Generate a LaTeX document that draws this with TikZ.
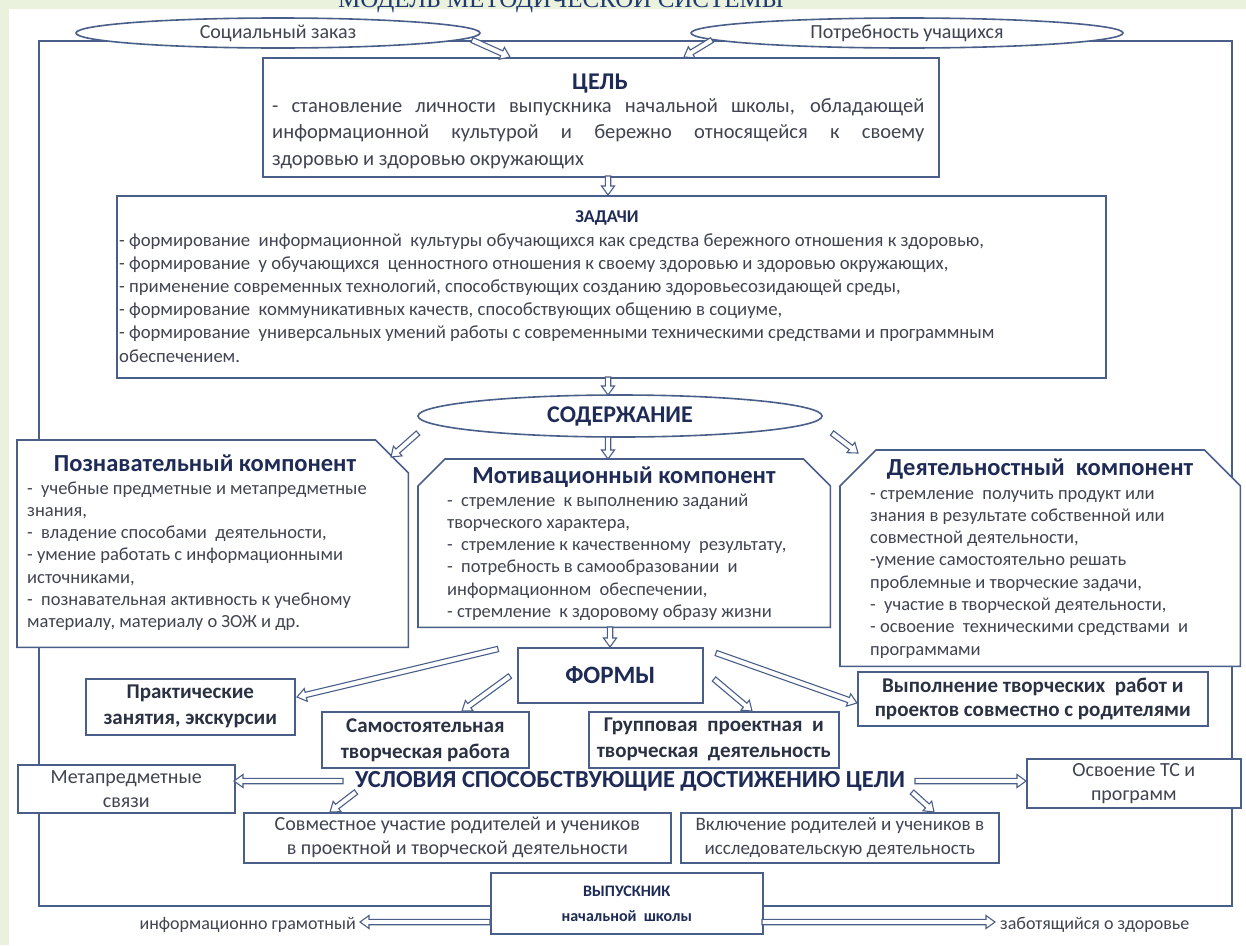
\documentclass[tikz,border=0pt]{standalone}
\usepackage{fontspec}
\setmainfont{Carlito}
\newfontfamily\serifru{Liberation Serif}
\usetikzlibrary{calc,shapes.geometric}
\definecolor{bord}{HTML}{4A5E8A}
\definecolor{navy}{HTML}{1F2B57}
\definecolor{gtxt}{HTML}{3F4450}
\definecolor{dtxt}{HTML}{2A3142}
\definecolor{titlec}{HTML}{1F3A6E}
\definecolor{bggreen}{HTML}{EAF1DD}
\newcommand\barrow[2]{%
  \coordinate (ba) at (#1);
  \coordinate (bb) at (#2);
  \coordinate (bh) at ($(bb)!9pt!(ba)$);
  \path[arrowsty] ($(ba)!2.7pt!90:(bb)$) -- ($(bh)!2.7pt!-90:(ba)$) -- ($(bh)!6.5pt!-90:(ba)$) -- (bb) -- ($(bh)!6.5pt!90:(ba)$) -- ($(bh)!2.7pt!90:(ba)$) -- ($(ba)!2.7pt!-90:(bb)$) -- cycle;}
\begin{document}
\begin{tikzpicture}[x=1pt,y=-1pt,
  bx/.style={draw=bord,line width=1.6pt,fill=white,inner sep=0pt,anchor=north west},
  sbx/.style={bx,align=center,text=dtxt,font=\fontsize{21}{26}\selectfont\bfseries},
  rbx/.style={bx,align=center,text=gtxt,font=\fontsize{20}{24}\selectfont},
  ell/.style={draw=bord,line width=1.6pt,fill=white,ellipse,inner sep=0pt},
  arrowsty/.style={draw=bord,line width=1.1pt,fill=white,line join=miter},
  lbl/.style={inner sep=0pt,anchor=base west,text=gtxt},
  ttl/.style={inner sep=0pt,anchor=base,text=navy,font=\fontsize{24.5}{28}\selectfont\bfseries},
  body/.style={lbl,font=\fontsize{18.5}{22.3}\selectfont},
  hidden/.style={inner sep=0pt,anchor=north west}
]
\fill[white] (0,0) rectangle (1246,945);
\fill[bggreen] (0,0) rectangle (1246,9);
\fill[bggreen] (0,0) rectangle (9,945);
\useasboundingbox (0,0) rectangle (1246,945);
\clip (0,0) rectangle (1246,945);
\node[anchor=base,inner sep=0pt,font=\serifru\fontsize{25}{30}\selectfont,text=titlec] (title) at (561,7) {МОДЕЛЬ МЕТОДИЧЕСКОЙ СИСТЕМЫ};

% outer frame
\node[draw=bord,line width=1.8pt,inner sep=0pt,anchor=north west,minimum width=1193pt,minimum height=865pt] (frame) at (38,40) {};

% top ellipses
\node[ell,minimum width=404pt,minimum height=30pt,text=gtxt,font=\fontsize{20}{24}\selectfont] (soc) at (278,33) {Социальный заказ};
\node[ell,minimum width=432pt,minimum height=30pt,text=gtxt,font=\fontsize{20}{24}\selectfont] (potr) at (907,33) {Потребность учащихся};

% goal
\node[bx,minimum width=676pt,minimum height=119pt] (cel) at (262,57) {};
\node[ttl,font=\fontsize{24}{28}\selectfont\bfseries] (celh) at (600,89) {ЦЕЛЬ};
\node[lbl,font=\fontsize{20.5}{26.5}\selectfont] (celt) at (272,112) {\parbox[t]{652pt}{%
\makebox[652pt][s]{- становление личности выпускника начальной школы, обладающей}\\
\makebox[652pt][s]{информационной культурой и бережно относящейся к своему}\\
здоровью и здоровью окружающих}};

% tasks
\node[bx,minimum width=989pt,minimum height=182pt] (zad) at (116,195) {};
\node[ttl,font=\fontsize{18}{20}\selectfont\bfseries] (zadh) at (607,222) {ЗАДАЧИ};
\node[lbl,font=\fontsize{18.7}{23.2}\selectfont] (zadt) at (119,246) {\parbox[t]{980pt}{%
- формирование\ \ информационной\ \ культуры обучающихся как средства бережного отношения к здоровью,\\
- формирование\ \ у обучающихся\ \ ценностного отношения к своему здоровью и здоровью окружающих,\\
- применение современных технологий, способствующих созданию здоровьесозидающей среды,\\
- формирование\ \ коммуникативных качеств, способствующих общению в социуме,\\
- формирование\ \ универсальных умений работы с современными техническими средствами и программным\\
обеспечением.}};

% content
\node[ell,minimum width=404pt,minimum height=42pt,text=navy,font=\fontsize{24}{28}\selectfont\bfseries] (sod) at (620,416) {СОДЕРЖАНИЕ};

% cognitive component
\node[hidden,minimum width=391pt,minimum height=207pt] (pozn) at (17,440) {};
\draw[draw=bord,line width=1.6pt,fill=white] (pozn.north west) -- ([xshift=-33pt]pozn.north east) -- ([yshift=-33pt]pozn.north east) -- (pozn.south east) -- (pozn.south west) -- cycle;
\node[ttl] (poznh) at (205,471) {Познавательный компонент};
\node[body] (poznt) at (27,494) {\parbox[t]{380pt}{%
-\ \ учебные предметные и метапредметные\\
знания,\\
-\ \ владение способами\ \ деятельности,\\
- умение работать с информационными\\
источниками,\\
-\ \ познавательная активность к учебному\\
материалу, материалу о ЗОЖ и др.}};

% motivational component
\node[hidden,minimum width=412pt,minimum height=168pt] (motiv) at (418,459) {};
\draw[draw=bord,line width=1.6pt,fill=white] ([yshift=-27pt]motiv.north west) -- ([xshift=27pt]motiv.north west) -- ([xshift=-27pt]motiv.north east) -- ([yshift=-27pt]motiv.north east) -- (motiv.south east) -- (motiv.south west) -- cycle;
\node[ttl] (motivh) at (624,483) {Мотивационный компонент};
\node[body] (motivt) at (447,506) {\parbox[t]{380pt}{%
-\ \ стремление\ \ к выполнению заданий\\
творческого характера,\\
-\ \ стремление к качественному\ \ результату,\\
-\ \ потребность в самообразовании\ \ и\\
информационном\ \ обеспечении,\\
- стремление\ \ к здоровому образу жизни}};

% activity component
\node[hidden,minimum width=400pt,minimum height=216pt] (deyat) at (840,450) {};
\draw[draw=bord,line width=1.6pt,fill=white] ([yshift=-36pt]deyat.north west) -- ([xshift=36pt]deyat.north west) -- ([xshift=-36pt]deyat.north east) -- ([yshift=-36pt]deyat.north east) -- (deyat.south east) -- (deyat.south west) -- cycle;
\node[ttl] (deyath) at (1040,475) {Деятельностный\ \ компонент};
\node[body] (deyatt) at (870,499) {\parbox[t]{360pt}{%
- стремление\ \ получить продукт или\\
знания в результате собственной или\\
совместной деятельности,\\
-умение самостоятельно решать\\
проблемные и творческие задачи,\\
-\ \ участие в творческой деятельности,\\
- освоение\ \ техническими средствами\ \ и\\
программами}};

% forms
\node[bx,minimum width=185pt,minimum height=55pt,text=navy,font=\fontsize{25}{28}\selectfont\bfseries] (form) at (517,647) {ФОРМЫ};
\node[sbx,minimum width=209pt,minimum height=56pt] (prak) at (85,678) {Практические\\занятия, экскурсии};
\node[sbx,minimum width=207pt,minimum height=56pt] (samo) at (321,711) {Самостоятельная\\творческая работа};
\node[sbx,minimum width=250pt,minimum height=56pt] (grup) at (588,711) {Групповая\ \ проектная\ \ и\\творческая\ \ деятельность};
\node[sbx,minimum width=350pt,minimum height=54pt,font=\fontsize{21}{24.5}\selectfont\bfseries] (vyp) at (857,671) {Выполнение творческих\ \ работ и\\проектов совместно с родителями};

% conditions
\node[inner sep=0pt,text=navy,font=\fontsize{24.5}{30}\selectfont\bfseries] (usl) at (630,781) {УСЛОВИЯ СПОСОБСТВУЮЩИЕ ДОСТИЖЕНИЮ ЦЕЛИ};
\node[rbx,minimum width=217pt,minimum height=48pt] (meta) at (17,764) {Метапредметные\\связи};
\node[rbx,minimum width=214pt,minimum height=49pt] (osv) at (1026,758) {Освоение ТС и\\программ};
\node[rbx,minimum width=427pt,minimum height=50pt] (sovm) at (243,812) {Совместное участие родителей и учеников\\в проектной и творческой деятельности};
\node[rbx,minimum width=318pt,minimum height=50pt,font=\fontsize{19}{24}\selectfont] (vkl) at (680,812) {Включение родителей и учеников в\\исследовательскую деятельность};

% graduate
\node[bx,minimum width=272pt,minimum height=61pt,align=center,text=navy,font=\fontsize{16}{25}\selectfont\bfseries] (grad) at (490,872) {ВЫПУСКНИК\\начальной\ \ школы};
\node[inner sep=0pt,anchor=east,text=gtxt,font=\fontsize{18}{22}\selectfont] (infg) at (356,925) {информационно грамотный};
\node[inner sep=0pt,anchor=west,text=gtxt,font=\fontsize{18}{22}\selectfont] (zabo) at (1000,925) {заботящийся о здоровье};

% arrow end points
\coordinate (p1) at (472,40);  \coordinate (q1) at (510,57);
\coordinate (p2) at (712,40);  \coordinate (q2) at (684,57);
\coordinate (p3) at (608,176); \coordinate (q3) at (608,195);
\coordinate (p4) at (608,377); \coordinate (q4) at (608,395);
\coordinate (p5) at (608,437); \coordinate (q5) at (608,459);
\coordinate (p6) at (418,433); \coordinate (q6) at (391,457);
\coordinate (p7) at (832,433); \coordinate (q7) at (858,453);
\coordinate (p8) at (610,627); \coordinate (q8) at (610,647);
\coordinate (p9) at (498,649); \coordinate (q9) at (297,697);
\coordinate (p10) at (510,676); \coordinate (q10) at (462,711);
\coordinate (p11) at (714,679); \coordinate (q11) at (752,711);
\coordinate (p12) at (716,653); \coordinate (q12) at (857,703);
\coordinate (p13) at (343,781); \coordinate (q13) at (234,781);
\coordinate (p14) at (915,781); \coordinate (q14) at (1026,781);
\coordinate (p15) at (356,792); \coordinate (q15) at (330,812);
\coordinate (p16) at (912,792); \coordinate (q16) at (934,812);
\coordinate (p17) at (490,922); \coordinate (q17) at (360,922);
\coordinate (p18) at (762,922); \coordinate (q18) at (995,922);
\foreach \i in {1,...,18} {\barrow{p\i}{q\i}}
\end{tikzpicture}
\end{document}
